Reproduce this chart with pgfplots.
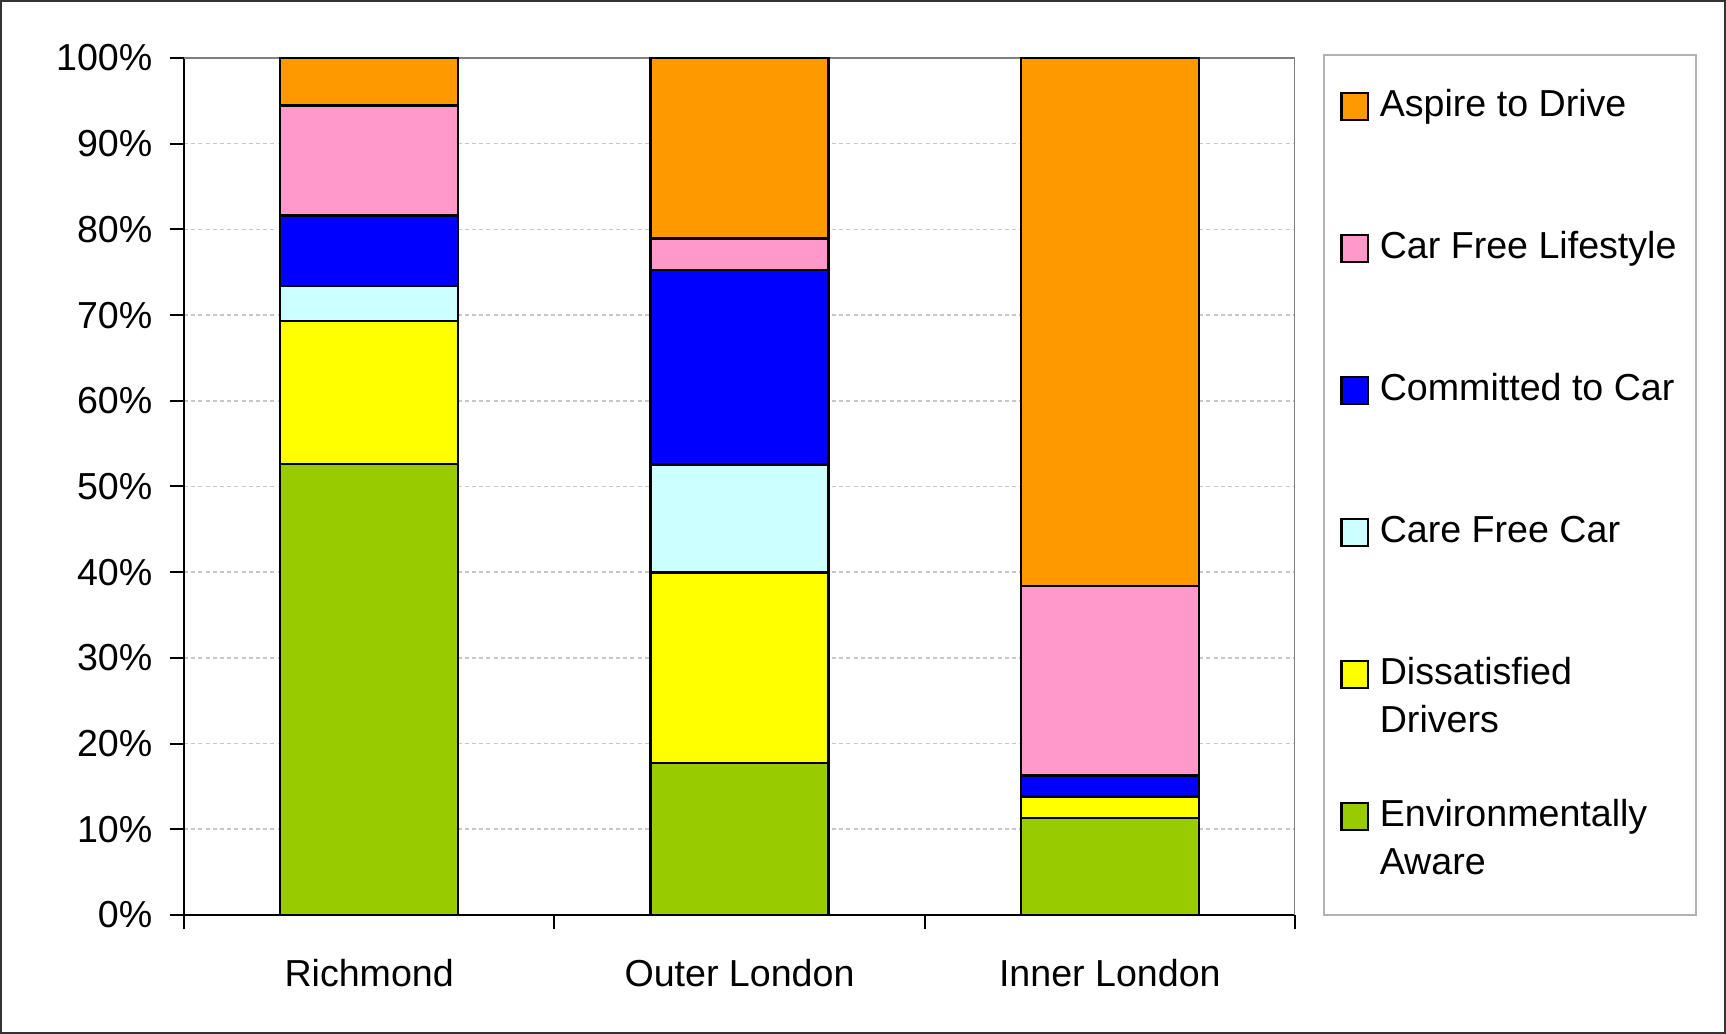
\documentclass[border=0pt]{standalone}
\usepackage{pgfplots}
\pgfplotsset{compat=1.18}
\usepackage{fontspec}
\setmainfont{Liberation Sans}
\definecolor{cOrange}{HTML}{FF9900}
\definecolor{cPink}{HTML}{FF99CC}
\definecolor{cBlue}{HTML}{0000FF}
\definecolor{cCyan}{HTML}{CCFFFF}
\definecolor{cYellow}{HTML}{FFFF00}
\definecolor{cGreen}{HTML}{99CC00}
\begin{document}
\begin{tikzpicture}
\useasboundingbox (-46pt,-29.75pt) rectangle (385.5pt,228.75pt);
\draw[line width=0.6pt, black!80] (-45.7pt,-29.45pt) rectangle (385.2pt,228.45pt);
\draw[line width=0.4pt, black!30] (285pt,0pt) rectangle (378pt,215pt);
\begin{axis}[
  at={(0,0)}, anchor=south west,
  scale only axis,
  width=277.75pt, height=214.25pt,
  ybar stacked, bar width=44.5pt,
  xmin=-0.5, xmax=2.5, ymin=0, ymax=100,
  axis lines=left, axis line style={-, black, line width=0.6pt},
  tick align=outside, major tick length=3.6pt,
  tick style={black, line width=0.5pt},
  xtick={-0.5,0.5,1.5,2.5}, xticklabels={},
  extra x ticks={0,1,2},
  extra x tick labels={Richmond, Outer London, Inner London},
  extra x tick style={major tick length=0pt, grid=none, xticklabel style={yshift=-7.5pt}},
  ytick={0,10,...,100},
  yticklabel={\pgfmathprintnumber{\tick}\%},
  yticklabel style={xshift=-0.8pt},
  ymajorgrids, grid style={black!22, line width=0.4pt, dash pattern=on 1pt off 0.8pt},
  /pgf/number format/assume math mode=true,
  tick label style={font=\fontsize{9.4}{12}\selectfont},
  reverse legend,
  legend image code/.code={\draw[#1, draw=black, line width=0.6pt] (0pt,-3.35pt) rectangle (6.7pt,3.35pt);},
  legend style={draw=none, fill=none, at={(1.04,0.97)}, anchor=north west,
    inner sep=0pt, row sep=24.5pt, column sep=1.6pt,
    nodes={inner sep=1pt, text height=7pt, text depth=2pt, font=\fontsize{9.4}{12}\selectfont}},
  legend cell align=left,
]
\addplot[fill=cGreen, draw=black, line width=0.65pt] coordinates {(0,52.6) (1,17.75) (2,11.3)};
\addlegendentry{\vtop{\hbox{Environmentally}\hbox{Aware}}}
\addplot[fill=cYellow, draw=black, line width=0.65pt] coordinates {(0,16.7) (1,22.2) (2,2.5)};
\addlegendentry{\vtop{\hbox{Dissatisfied}\hbox{Drivers}}}
\addplot[fill=cCyan, draw=black, line width=0.65pt] coordinates {(0,4.1) (1,12.6) (2,0)};
\addlegendentry{Care Free Car}
\addplot[fill=cBlue, draw=black, line width=0.65pt] coordinates {(0,8.2) (1,22.7) (2,2.5)};
\addlegendentry{Committed to Car}
\addplot[fill=cPink, draw=black, line width=0.65pt] coordinates {(0,12.85) (1,3.7) (2,22.1)};
\addlegendentry{Car Free Lifestyle}
\addplot[fill=cOrange, draw=black, line width=0.65pt] coordinates {(0,5.55) (1,21.05) (2,61.6)};
\addlegendentry{Aspire to Drive}
\draw[black!50, line width=0.6pt] (rel axis cs:0,1) -- (rel axis cs:1,1) -- (rel axis cs:1,0);
\end{axis}
\end{tikzpicture}
\end{document}
